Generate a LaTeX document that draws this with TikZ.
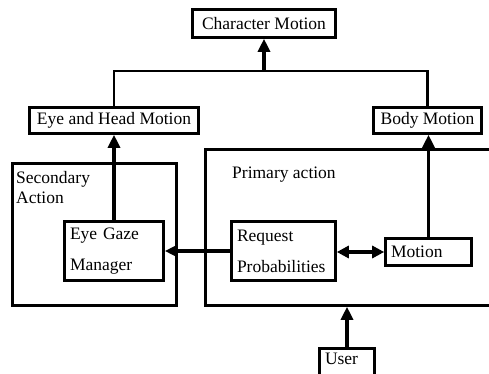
\documentclass[tikz,border=0pt]{standalone}
\usepackage{fontspec}
\setmainfont{Liberation Serif}
\usetikzlibrary{arrows.meta}
\tikzset{
  blk/.style={draw, line width=2.6pt, inner sep=0pt, font=\fontsize{17.5}{31}\selectfont},
  lblk/.style={blk, align=left, inner xsep=5.5pt, text width=#1},
  lbl/.style={inner sep=0pt, anchor=base west, align=left, font=\fontsize{17.5}{20}\selectfont},
  flow/.style={line width=3.2pt, -{Triangle[length=13pt,width=12pt]}},
  bflow/.style={line width=3.2pt, {Triangle[length=12pt,width=12pt]}-{Triangle[length=12pt,width=12pt]}}
}
\begin{document}
\begin{tikzpicture}[x=1pt, y=-1pt]
\clip (0,0) rectangle (489,374);
% output side
\node [blk, minimum width=143pt, minimum height=28pt] (charmotion) at (264, 23.5) {Character Motion};
\node [blk, minimum width=169pt, minimum height=26pt] (eyehead) at (114, 120.5) {Eye and Head Motion};
\node [blk, minimum width=108pt, minimum height=26pt] (body) at (427.5, 120.5) {Body Motion};
\coordinate (join) at (264, 71);
\draw [line width=2.6pt] (eyehead.north) |- (join) -| (body.north);
\draw [flow] (join) -- (charmotion.south);

% containers
\node [blk, minimum width=164pt, minimum height=142pt] (secondary) at (94.5, 234.5) {};
\node [lbl] (seclabel) at (16, 203) {Secondary\\Action};
\node [blk, minimum width=313pt, minimum height=156pt] (primary) at (362, 227.5) {};
\node [lbl] (primlabel) at (232, 178) {Primary action};

% inner blocks
\node [lblk=88pt, minimum height=59pt] (gaze) at (114, 251) {Eye Gaze\\Manager};
\node [lblk=93pt, minimum height=59pt] (request) at (283.5, 251) {Request\\Probabilities};
\node [lblk=75pt, minimum height=27pt] (motion) at (428.5, 252) {Motion};
\node [lblk=44pt, inner ysep=5pt, text depth=22pt, anchor=north] (user) at (347, 347) {User};

\draw [flow] (gaze.north) -- (eyehead.south);
\draw [flow] (motion.north) -- (body.south -| motion.north);
\draw [flow] (request.west) -- (gaze.east);
\draw [bflow] (request.east |- motion.west) -- (motion.west);
\draw [flow] (user.north) -- (user.north |- primary.south);
\end{tikzpicture}
\end{document}
